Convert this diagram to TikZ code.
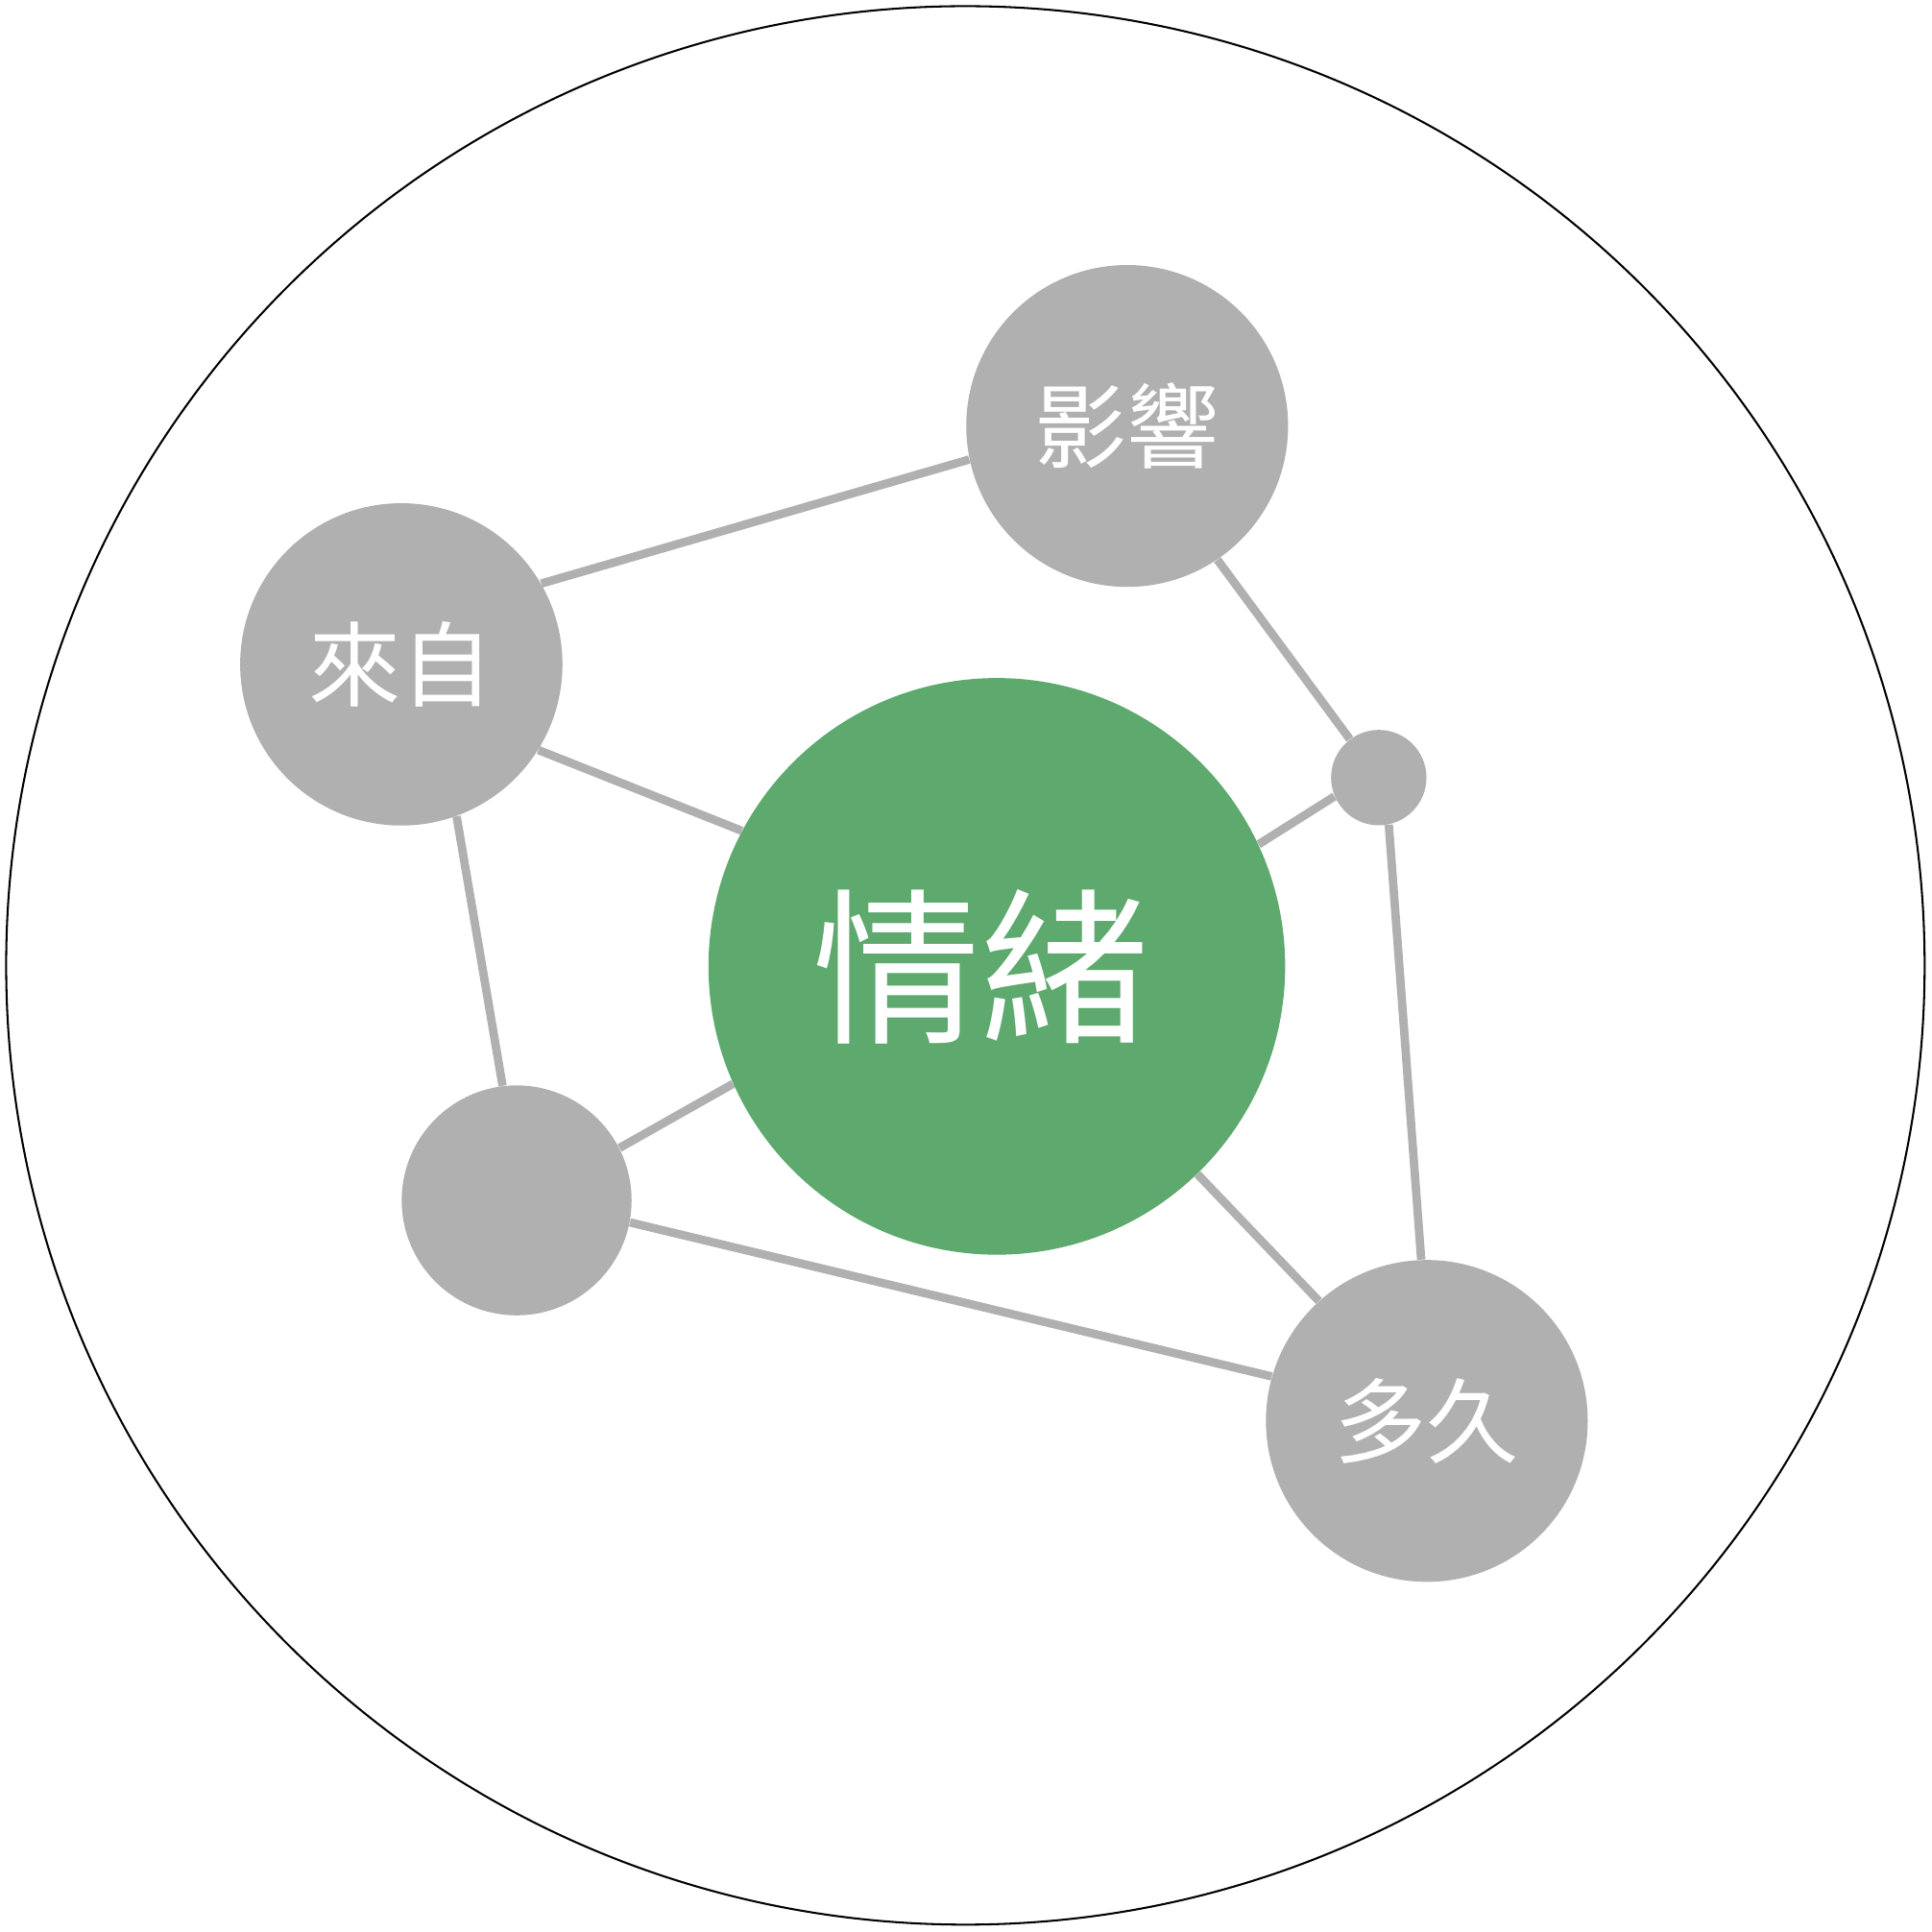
\documentclass[tikz,border=0pt]{standalone}
\usepackage{fontspec}
\newfontfamily\cjk{Noto Sans CJK SC}
\definecolor{nodegray}{HTML}{B0B0B0}
\definecolor{nodegreen}{HTML}{5DA96E}
\begin{document}
\begin{tikzpicture}[x=0.5pt,y=-0.5pt,
  bub/.style={circle,fill=nodegray,inner sep=0pt,text=white,font=\cjk\fontsize{37.5}{40}\selectfont},
  link/.style={draw=nodegray,line width=3.4pt}]
\useasboundingbox (0,0) rectangle (1568,1568);
\draw[line width=0.8pt] (783.5,783.5) circle[radius=778.5];
\node[bub,minimum size=130.6pt] (yx) at (914.8,345.7) {\raisebox{1pt}{影響}};
\node[bub,minimum size=130.8pt] (lz) at (325.7,539.2) {\raisebox{0.5pt}{來自}};
\node[bub,minimum size=38.7pt] (sm) at (1119,631.1) {};
\node[bub,minimum size=93.3pt] (bl) at (419.3,974.2) {};
\node[bub,minimum size=130.6pt] (dj) at (1158,1153.2) {多久};
\node[circle,fill=nodegreen,inner sep=0pt,minimum size=234pt,text=white,font=\cjk\fontsize{68}{78}\selectfont] (qx) at (809,784.3) {\hspace*{-13pt}\raisebox{1pt}{情緒}};
\path[link] (lz.30.5) -- (yx.192);
\path[link] (yx.-56.1) -- (sm.127.8);
\path[link] (sm.203.7) -- (qx.25.2);
\path[link] (sm.-78.4) -- (dj.92.6);
\path[link] (lz.-32.7) -- (qx.152.9);
\path[link] (lz.-70.7) -- (bl.97.9);
\path[link] (bl.27.1) -- (qx.204);
\path[link] (bl.-11.3) -- (dj.164.4);
\path[link] (qx.-46.7) -- (dj.132);
\end{tikzpicture}
\end{document}
